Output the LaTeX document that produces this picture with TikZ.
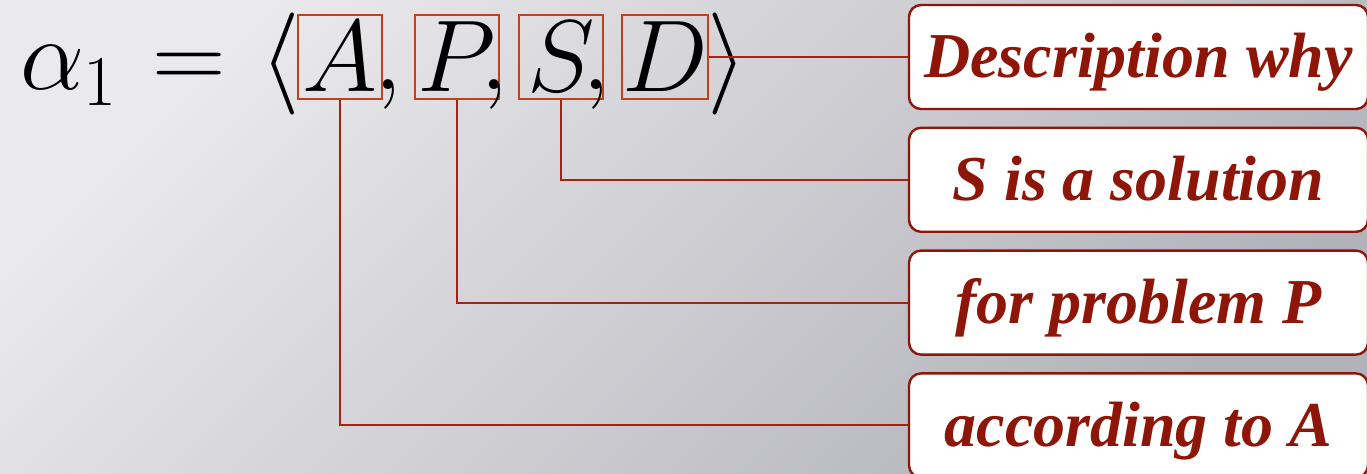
\documentclass[tikz,border=0pt]{standalone}
\usepackage{fix-cm}
\usepackage{fontspec}
\newfontfamily\notefont{Liberation Serif}
\usetikzlibrary{positioning}
\definecolor{notered}{RGB}{142,22,8}
\definecolor{markred}{RGB}{196,64,24}
\definecolor{linkred}{RGB}{166,34,18}
\definecolor{bgleft}{RGB}{234,234,236}
\definecolor{bgright}{RGB}{178,178,186}
\tikzset{
  formula/.style={inner sep=0pt,font=\fontsize{51}{51}\selectfont},
  tuplebox/.style={rectangle,draw=markred,line width=1pt,minimum size=42pt,inner sep=0pt,font=\fontsize{51}{51}\selectfont},
  note/.style={rectangle,draw=notered,fill=white,line width=1.2pt,rounded corners=6pt,
    minimum width=229.5pt,minimum height=52pt,text height=21pt,text depth=0pt,inner sep=0pt,
    text=notered,font=\fontsize{32}{32}\notefont\bfseries\itshape},
  link/.style={draw=linkred,line width=1pt}
}

\begin{document}
\begin{tikzpicture}[x=0.5pt,y=-0.5pt]
\path[use as bounding box,clip] (0,0) rectangle (1367,474);
\shade[left color=bgleft,right color=bgright,shading angle=45] (0,0) rectangle (1367,474);

% the tuple
\node[formula, anchor=base west] (alpha) at (20,90) {$\alpha_1$};
\node[formula, anchor=base west] (eq) at (152,90) {$=$};
\node[formula, anchor=base east] (open) at (301,90) {$\langle$};
\node[tuplebox] (A) at (340,57) {$A$};
\node[formula, anchor=base west] (c1) at (374,90) {$,$};
\node[tuplebox] (P) at (457,57) {$P$};
\node[formula, anchor=base west] (c2) at (480,90) {$,$};
\node[tuplebox] (S) at (561,57) {$S$};
\node[formula, anchor=base west] (c3) at (582,90) {$,$};
\node[tuplebox] (D) at (665,57) {$D$};
\node[formula, anchor=base west] (close) at (707,90) {$\rangle$};

% the notes
\node[note] (why) at (1138.5,57) {Description why};
\node[note, below=8.2pt of why] (sol) {S is a solution};
\node[note, below=8.2pt of sol] (prob) {for problem P};
\node[note, below=8.2pt of prob] (acc) {according to A};

\draw[link] (D.east) -- (why.west);
\draw[link] (S.south) |- (sol.west);
\draw[link] (P.south) |- (prob.west);
\draw[link] (A.south) |- (acc.west);
\end{tikzpicture}
\end{document}
